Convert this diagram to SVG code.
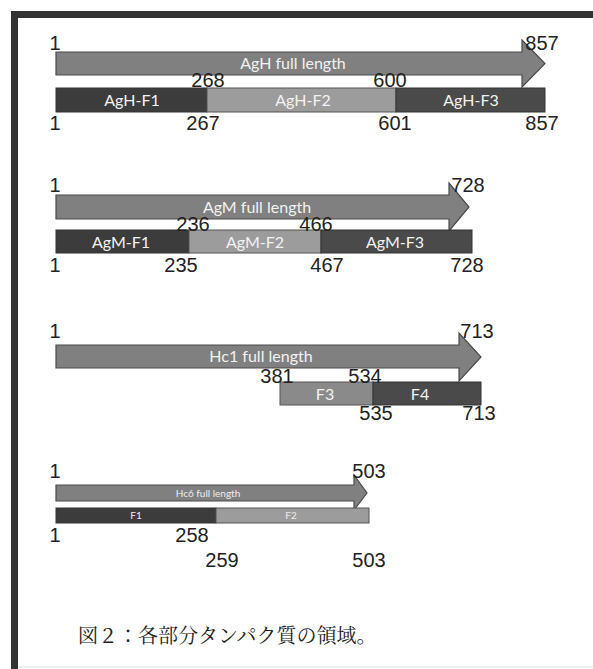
<svg xmlns="http://www.w3.org/2000/svg" width="593" height="669" viewBox="0 0 593 669">
<style>
.frame{fill:#333}
.arrow{fill:#808080;stroke:#4a4a4a;stroke-width:1.2}
.dark{fill:#3c3c3c;stroke:#333;stroke-width:1}
.dark2{fill:#4a4a4a;stroke:#333;stroke-width:1}
.light{fill:#9c9c9c;stroke:#555;stroke-width:1}
.mid{fill:#8a8a8a;stroke:#555;stroke-width:1}
.num{font-family:"Liberation Sans",Arial,sans-serif;font-size:20px;fill:#222;text-anchor:middle}
.in{font-family:Lato,"Open Sans",sans-serif;font-size:16px;fill:#f2f2f2;text-anchor:middle}
.sm{font-family:Lato,"Open Sans",sans-serif;font-size:10px;fill:#eee;text-anchor:middle}
.cap{font-family:"Noto Serif CJK JP","Noto Sans CJK JP",serif;font-size:20px;fill:#222}
</style>
<rect x="0" y="0" width="593" height="669" fill="#fff"/>
<g id="frame">
<rect class="frame" x="11" y="11" width="582" height="7"/>
<rect class="frame" x="11" y="11" width="7" height="658"/>
<rect x="18" y="666" width="575" height="2" fill="#eee"/>
</g>

<g id="agh">
<path class="arrow" d="M56,52 H522 V40 L545,63.5 L522,87 V75 H56 Z"/>
<text class="in" x="293" y="69">AgH full length</text>
<rect class="dark" x="56" y="88" width="151" height="24"/>
<rect class="light" x="207" y="88" width="189" height="24"/>
<rect class="dark2" x="396" y="88" width="149" height="24"/>
<text class="in" x="132" y="106">AgH-F1</text>
<text class="in" x="303" y="106">AgH-F2</text>
<text class="in" x="471" y="106">AgH-F3</text>
<text class="num" x="55" y="50">1</text>
<text class="num" x="542" y="50">857</text>
<text class="num" x="208" y="87">268</text>
<text class="num" x="390" y="87">600</text>
<text class="num" x="55" y="130">1</text>
<text class="num" x="203" y="130">267</text>
<text class="num" x="395" y="130">601</text>
<text class="num" x="542" y="130">857</text>
</g>

<g id="agm">
<path class="arrow" d="M56,195 H449 V183 L469,207 L449,231 V219 H56 Z"/>
<text class="in" x="257" y="213">AgM full length</text>
<rect class="dark" x="56" y="230" width="133" height="23"/>
<rect class="light" x="189" y="230" width="132" height="23"/>
<rect class="dark2" x="321" y="230" width="151" height="23"/>
<text class="in" x="121" y="248">AgM-F1</text>
<text class="in" x="255" y="248">AgM-F2</text>
<text class="in" x="395" y="248">AgM-F3</text>
<text class="num" x="55" y="192">1</text>
<text class="num" x="468" y="192">728</text>
<text class="num" x="193" y="231">236</text>
<text class="num" x="316" y="231">466</text>
<text class="num" x="55" y="272">1</text>
<text class="num" x="181" y="272">235</text>
<text class="num" x="327" y="272">467</text>
<text class="num" x="467" y="272">728</text>
</g>

<g id="hc1">
<path class="arrow" d="M56,345 H459 V333 L481,357 L459,381 V368 H56 Z"/>
<text class="in" x="261" y="362">Hc1 full length</text>
<rect class="mid" x="280" y="382" width="93" height="23"/>
<rect class="dark2" x="373" y="382" width="108" height="23"/>
<text class="in" x="325" y="400">F3</text>
<text class="in" x="420" y="400">F4</text>
<text class="num" x="55" y="338">1</text>
<text class="num" x="477" y="338">713</text>
<text class="num" x="277" y="383">381</text>
<text class="num" x="365" y="383">534</text>
<text class="num" x="376" y="420">535</text>
<text class="num" x="479" y="420">713</text>
</g>

<g id="hc6">
<path class="arrow" d="M56,485 H354 V475 L367,493 L354,510 V501 H56 Z"/>
<text class="sm" x="208" y="497">Hc6 full length</text>
<rect class="dark" x="56" y="508" width="160" height="15"/>
<rect class="light" x="216" y="508" width="153" height="15"/>
<text class="sm" x="136" y="519">F1</text>
<text class="sm" x="291" y="519">F2</text>
<text class="num" x="55" y="478">1</text>
<text class="num" x="369" y="478">503</text>
<text class="num" x="55" y="542">1</text>
<text class="num" x="192" y="542">258</text>
<text class="num" x="222" y="567">259</text>
<text class="num" x="369" y="567">503</text>
</g>

<g id="caption">
<text class="cap" x="78" y="643">図２：各部分タンパク質の領域。</text>
</g>
</svg>
